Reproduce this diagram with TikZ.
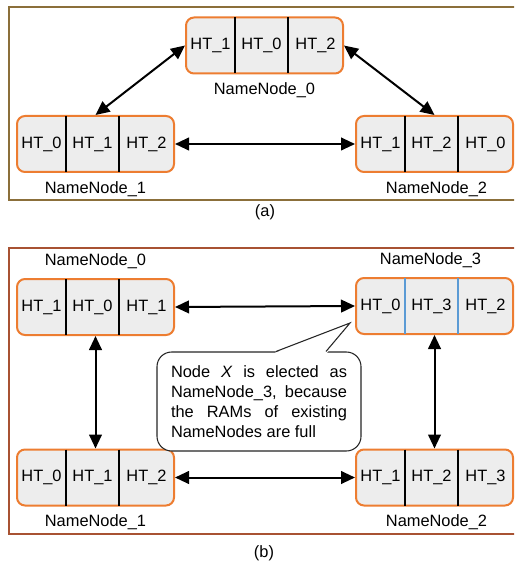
\documentclass[tikz,border=0pt]{standalone}
\usepackage{fontspec}
\setmainfont{Liberation Sans}
\usetikzlibrary{arrows.meta, positioning}
\hyphenpenalty=10000

\definecolor{nnorange}{RGB}{237,125,49}
\definecolor{nngray}{RGB}{237,237,237}
\definecolor{nnblue}{RGB}{91,155,213}
\definecolor{frameA}{RGB}{139,111,58}
\definecolor{frameB}{RGB}{168,82,50}

\tikzset{
  nnbox/.style={draw=nnorange, fill=nngray, line width=1.5pt, rounded corners=6pt,
    minimum width=117.75pt, minimum height=42pt, inner sep=0pt},
  divider/.style={line width=1.2pt},
  httext/.style={inner sep=0pt},
  nnlabel/.style={inner sep=0pt, text height=9pt, text depth=3pt},
  link/.style={{Triangle[length=10.5pt,width=9.5pt]}-{Triangle[length=10.5pt,width=9.5pt]}, line width=1.5pt},
  note/.style={draw=black!85, fill=white, line width=0.8pt, rounded corners=11pt,
    text width=132pt, align=justify, minimum height=74.25pt, inner xsep=10.5pt}
}

\begin{document}
\begin{tikzpicture}[x=0.75pt, y=-0.75pt, node distance=6pt,
  font=\fontsize{12.3pt}{15pt}\selectfont]
\clip (0,0) rectangle (514,566);

%Marcos
\draw[frameA, line width=1.2pt] (9,7) rectangle (530,200);
\draw[frameB, line width=1.2pt] (9,248) rectangle (530,534);

%NameNodes
\foreach \n/\x/\y/\p/\q/\r/\col in {a0/264.5/45.5/1/0/2/black, a1/95.5/144/0/1/2/black,
    a2/434.5/144/1/2/0/black, b0/95.5/307/1/0/1/black, b3/434.5/306/0/3/2/nnblue,
    b1/95.5/477.5/0/1/2/black, b2/434.5/477.5/1/2/3/black}{
  \node[nnbox] (\n) at (\x,\y) {};
  \draw[divider, draw=\col] ({\x-29.5},{\y-28}) -- ({\x-29.5},{\y+28});
  \draw[divider, draw=\col] ({\x+23.5},{\y-28}) -- ({\x+23.5},{\y+28});
  \node[httext] (\n-1) at ({\x-54},\y) {HT\_\p};
  \node[httext] (\n-2) at ({\x-3},\y) {HT\_\q};
  \node[httext] (\n-3) at ({\x+51},\y) {HT\_\r};
}

%Etiquetas
\node[nnlabel, below=of a0] (a0-name) {NameNode\_0};
\node[nnlabel, below=of a1] (a1-name) {NameNode\_1};
\node[nnlabel, below=of a2, xshift=1.5pt] (a2-name) {NameNode\_2};
\node[nnlabel, above=of b0] (b0-name) {NameNode\_0};
\node[nnlabel, above=of b3, xshift=-3pt] (b3-name) {NameNode\_3};
\node[nnlabel, below=of b1] (b1-name) {NameNode\_1};
\node[nnlabel, below=of b2, xshift=1.5pt] (b2-name) {NameNode\_2};
\node (cap-a) at (265,212) {(a)};
\node (cap-b) at (264,553) {(b)};

%Flechas
\draw[link] (a0.west) -- (a1.north);
\draw[link] (a0.east) -- (a2.north);
\draw[link] (a1.east) -- (a2.west);
\draw[link] (b0.east) -- (b3.west);
\draw[link] (b0.south) -- (b1.north);
\draw[link] (b3.south) -- (b2.north);
\draw[link] (b1.east) -- (b2.west);

%Nota
\node[note] (note) at (259,401.5) {Node \textit{X} is elected as NameNode\_3, because the RAMs of existing NameNodes are full};
\coordinate (tip) at (350,323);
\fill[white] ([xshift=12pt,yshift=-1pt]note.north) -- (tip) -- ([xshift=51pt,yshift=-1pt]note.north) -- cycle;
\draw[black!85, line width=0.8pt] ([xshift=12.75pt]note.north) -- (tip) -- ([xshift=50.25pt]note.north);
\end{tikzpicture}
\end{document}
